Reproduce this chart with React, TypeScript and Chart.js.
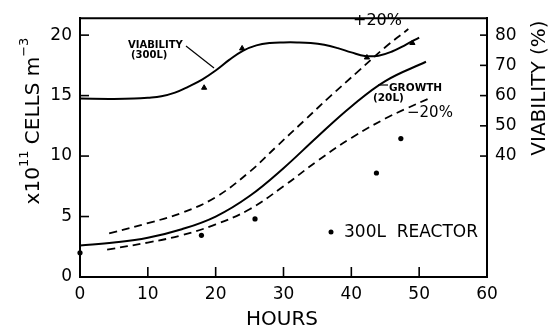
import React, { useEffect, useRef } from "react";
import { Chart, registerables } from "chart.js";

Chart.register(...registerables);

// Viability curve (300L), in %
const viabilityHours = [0, 5, 8, 10, 12, 14, 16, 18, 20, 22, 24, 26, 28, 30, 32, 34, 36, 38, 40, 42, 44, 46, 48, 50];
const viabilityPct = [59.0, 58.9, 59.0, 59.3, 59.8, 61.0, 63.0, 65.3, 68.3, 71.8, 74.8, 76.6, 77.4, 77.6, 77.6, 77.4, 76.8, 75.7, 74.3, 73.1, 73.2, 74.6, 76.8, 79.2];
// Viability observations (triangles), in %
const viabilityObsHours = [18.3, 23.9, 42.3, 49];
const viabilityObsPct = [62.6, 75.6, 72.6, 77.4];
// Growth (20L), x10^11 cells m^-3
const growthHours = [0, 5, 10, 15, 20, 25, 30, 35, 40, 45, 51];
const growthCells = [2.6, 2.85, 3.25, 3.95, 5.0, 6.7, 9.0, 11.6, 14.1, 16.2, 17.8];
// +20% band
const upperHours = [4.3, 10, 15, 20, 25, 29, 33, 37, 41, 45, 48.4];
const upperCells = [3.6, 4.45, 5.3, 6.6, 8.7, 10.8, 12.9, 15.0, 17.0, 19.0, 20.5];
// -20% band
const lowerHours = [4, 10, 15, 20, 25, 30, 35, 40, 45, 48, 51.6];
const lowerCells = [2.26, 2.85, 3.45, 4.35, 5.6, 7.5, 9.6, 11.5, 13.1, 13.9, 14.8];
// 300L reactor observations
const reactorHours = [0, 17.9, 25.8, 43.7, 47.3];
const reactorCells = [2.0, 3.45, 4.8, 8.6, 11.45];
// Ticks
const xTicks = [0, 10, 20, 30, 40, 50, 60];
const leftTicks = [0, 5, 10, 15, 20];
const rightTicks = [40, 50, 60, 70, 80];

const FONT = "'DejaVu Sans', sans-serif";

const zip = (xs: number[], ys: number[]) => xs.map((x, i) => ({ x, y: ys[i] }));

const decor = {
  id: "decor",
  afterDraw(chart: any) {
    const { ctx, chartArea: ca, scales } = chart;
    const xs = scales.x, ys = scales.y, y1 = scales.y1;
    ctx.save();
    ctx.strokeStyle = "#000";
    ctx.fillStyle = "#000";
    const line = (a: number, b: number, c: number, d: number) => {
      ctx.beginPath(); ctx.moveTo(a, b); ctx.lineTo(c, d); ctx.stroke();
    };
    // top frame
    ctx.lineWidth = 2;
    line(ca.left - 1, ca.top, ca.right + 1, ca.top);
    // inward ticks
    ctx.lineWidth = 1.6;
    xTicks.forEach((v) => {
      if (v === 0 || v === 60) return;
      const px = xs.getPixelForValue(v);
      line(px, ca.bottom, px, ca.bottom - 10);
    });
    leftTicks.forEach((v) => {
      if (v === 0) return;
      const py = ys.getPixelForValue(v);
      line(ca.left, py, ca.left + 9, py);
    });
    rightTicks.forEach((v) => {
      const py = y1.getPixelForValue(v);
      line(ca.right, py, ca.right - 7, py);
    });

    // annotations
    ctx.textBaseline = "middle";
    ctx.textAlign = "left";
    ctx.font = `bold 10px ${FONT}`;
    ctx.fillText("VIABILITY", 128, 45);
    ctx.fillText("(300L)", 131, 55);
    ctx.lineWidth = 1.2;
    line(186, 46, 214, 68);

    ctx.font = `bold 10.5px ${FONT}`;
    ctx.fillText("GROWTH", 389, 88);
    ctx.fillText("(20L)", 373, 98);
    line(378, 85, 388, 85);

    ctx.font = `16px ${FONT}`;
    ctx.fillText("+20%", 353, 21);
    ctx.font = `15px ${FONT}`;
    ctx.fillText("\u221220%", 407, 113);

    // legend
    ctx.beginPath();
    ctx.arc(331, 232, 2.5, 0, Math.PI * 2);
    ctx.fill();
    ctx.font = `17px ${FONT}`;
    ctx.fillText("300L  REACTOR", 344, 233);

    // x title
    ctx.textAlign = "center";
    ctx.font = `20px ${FONT}`;
    ctx.fillText("HOURS", 282, 320);

    // left y title with superscripts
    const parts: [string, number, number][] = [
      ["x10", 20, 0],
      ["11", 13, -9],
      [" CELLS m", 20, 0],
      ["\u22123", 13, -9],
    ];
    let total = 0;
    parts.forEach(([t, s]) => { ctx.font = `${s}px ${FONT}`; total += ctx.measureText(t).width; });
    ctx.save();
    ctx.translate(34, 121);
    ctx.rotate(-Math.PI / 2);
    ctx.textAlign = "left";
    let cx = -total / 2;
    parts.forEach(([t, s, dy]) => {
      ctx.font = `${s}px ${FONT}`;
      ctx.fillText(t, cx, dy);
      cx += ctx.measureText(t).width;
    });
    ctx.restore();

    // right y title
    ctx.save();
    ctx.translate(540, 88);
    ctx.rotate(-Math.PI / 2);
    ctx.textAlign = "center";
    ctx.font = `20px ${FONT}`;
    ctx.fillText("VIABILITY (%)", 0, 0);
    ctx.restore();

    ctx.restore();
  },
};

export default function App() {
  const ref = useRef<HTMLCanvasElement | null>(null);
  useEffect(() => {
    if (!ref.current) return;
    const dashed = {
      borderColor: "#000",
      borderWidth: 1.8,
      borderDash: [8, 5],
      pointRadius: 0,
      showLine: true,
      tension: 0.4,
      fill: false,
      yAxisID: "y",
    };
    const chart = new Chart(ref.current, {
      type: "scatter",
      data: {
        datasets: [
          {
            label: "Viability (300L)",
            data: zip(viabilityHours, viabilityPct),
            yAxisID: "y1",
            showLine: true,
            borderColor: "#000",
            borderWidth: 2,
            pointRadius: 0,
            tension: 0.4,
          },
          {
            label: "Viability obs",
            data: zip(viabilityObsHours, viabilityObsPct),
            yAxisID: "y1",
            showLine: false,
            pointStyle: "triangle",
            pointRadius: 3,
            backgroundColor: "#000",
            borderColor: "#000",
            borderWidth: 1,
          },
          {
            label: "Growth (20L)",
            data: zip(growthHours, growthCells),
            yAxisID: "y",
            showLine: true,
            borderColor: "#000",
            borderWidth: 2,
            pointRadius: 0,
            tension: 0.4,
          },
          { label: "+20%", data: zip(upperHours, upperCells), ...dashed },
          { label: "-20%", data: zip(lowerHours, lowerCells), ...dashed },
          {
            label: "300L reactor",
            data: zip(reactorHours, reactorCells),
            yAxisID: "y",
            showLine: false,
            pointStyle: "circle",
            pointRadius: 2.6,
            backgroundColor: "#000",
            borderColor: "#000",
            borderWidth: 0,
            clip: false,
          } as any,
        ],
      },
      options: {
        animation: false,
        responsive: false,
        devicePixelRatio: 1,
        layout: { padding: { top: 12, left: 0, right: 0, bottom: 0 } },
        plugins: { legend: { display: false }, tooltip: { enabled: false } },
        scales: {
          x: {
            type: "linear",
            min: 0,
            max: 60,
            afterBuildTicks: (s: any) => { s.ticks = xTicks.map((v) => ({ value: v })); },
            afterFit: (s: any) => { s.height = 52; },
            grid: { drawOnChartArea: false, drawTicks: false },
            border: { display: true, color: "#000", width: 2 },
            ticks: { padding: 7, color: "#000", font: { family: FONT, size: 17 }, maxRotation: 0 },
          },
          y: {
            type: "linear",
            position: "left",
            min: 0,
            max: 21.4,
            afterBuildTicks: (s: any) => { s.ticks = leftTicks.map((v) => ({ value: v })); },
            afterFit: (s: any) => { s.width = 80; },
            grid: { drawOnChartArea: false, drawTicks: false },
            border: { display: true, color: "#000", width: 2 },
            ticks: { padding: 8, color: "#000", font: { family: FONT, size: 17 } },
          },
          y1: {
            type: "linear",
            position: "right",
            min: 0,
            max: 85.6,
            afterBuildTicks: (s: any) => { s.ticks = rightTicks.map((v) => ({ value: v })); },
            afterFit: (s: any) => { s.width = 73; },
            grid: { drawOnChartArea: false, drawTicks: false },
            border: { display: true, color: "#000", width: 2 },
            ticks: { padding: 8, color: "#000", font: { family: FONT, size: 17 } },
          },
        },
      },
      plugins: [decor],
    } as any);
    return () => chart.destroy();
  }, []);
  return (
    <div style={{ position: "fixed", left: 0, top: 0, width: 560, height: 329, background: "#fff" }}>
      <canvas ref={ref} width={560} height={329} style={{ width: 560, height: 329, display: "block" }} />
    </div>
  );
}
